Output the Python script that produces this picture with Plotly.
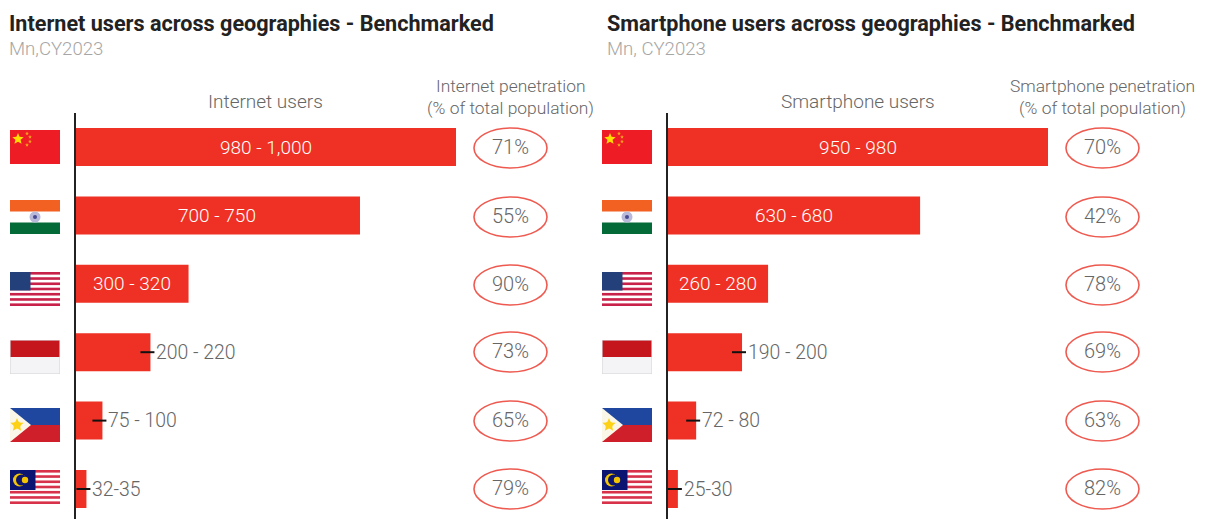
import base64
import math
import plotly.graph_objects as go

W, H = 1205, 519
countries = ["China", "India", "USA", "Indonesia", "Philippines", "Malaysia"]
internet_values = [1000, 748, 298, 198, 72, 30]
internet_labels = ["980 - 1,000", "700 - 750", "300 - 320", "200 - 220", "75 - 100", "32-35"]
internet_penetration = ["71%", "55%", "90%", "73%", "65%", "79%"]
smartphone_values = [980, 651, 260, 193, 75, 28]
smartphone_labels = ["950 - 980", "630 - 680", "260 - 280", "190 - 200", "72 - 80", "25-30"]
smartphone_penetration = ["70%", "42%", "78%", "69%", "63%", "82%"]
inside_count = 3

RED = "#EE3124"
GREY = "#666666"
FONT = "Roboto"


def stripes(n, c1, c2, w=50, h=34):
    s = f'<rect width="{w}" height="{h}" fill="{c2}"/>'
    for i in range(0, n, 2):
        s += f'<rect y="{i*h/n:.2f}" width="{w}" height="{h/n:.2f}" fill="{c1}"/>'
    return s


def star_pts(cx, cy, r):
    p = []
    for i in range(10):
        a = -math.pi / 2 + i * math.pi / 5
        q = r if i % 2 == 0 else r * 0.45
        p.append(f"{cx+q*math.cos(a):.2f},{cy+q*math.sin(a):.2f}")
    return " ".join(p)


FLAGS = {
    "China": '<rect width="50" height="34" fill="#EE1C25"/>'
             + f'<polygon points="{star_pts(8,9,6)}" fill="#FFDE00"/>'
             + "".join(f'<polygon points="{star_pts(x,y,2)}" fill="#F8A01C"/>'
                       for x, y in [(17, 3.5), (20, 7), (20, 11.5), (17, 15)]),
    "India": '<rect width="50" height="34" fill="#fff"/>'
             '<rect width="50" height="11.5" fill="#F26122"/>'
             '<rect y="22.5" width="50" height="11.5" fill="#046A38"/>'
             '<circle cx="25" cy="17" r="5.5" fill="#B9B9DA"/><circle cx="25" cy="17" r="2" fill="#4A4A90"/>',
    "USA": stripes(13, "#C8224A", "#FFFFFF") + '<rect width="20.5" height="18.5" fill="#24407A"/>',
    "Indonesia": '<rect width="50" height="34" fill="#F4F4F6"/><rect width="50" height="17" fill="#C4161C"/>'
                 '<rect x="0.3" y="0.3" width="49.4" height="33.4" fill="none" stroke="#D8D8DC" stroke-width="0.6"/>',
    "Philippines": '<rect width="50" height="17" fill="#1F479F"/><rect y="17" width="50" height="17" fill="#CE1F2B"/>'
                   '<polygon points="0,0 21,17 0,34" fill="#FBF7E8"/>'
                   f'<polygon points="{star_pts(7,17,7)}" fill="#FCD116"/>'
                   '<circle cx="7" cy="17" r="3.6" fill="#FCD116"/>',
    "Malaysia": stripes(13, "#D8324A", "#FFFFFF") + '<rect width="25.5" height="20" fill="#0B1470"/>'
                '<circle cx="9.5" cy="10" r="6.5" fill="#F4C400"/><circle cx="11.5" cy="10" r="5.5" fill="#0B1470"/>'
                '<circle cx="15" cy="10" r="3.2" fill="#F4C400"/>',
}


def uri(name):
    svg = f'<svg xmlns="http://www.w3.org/2000/svg" viewBox="0 0 50 34" preserveAspectRatio="none">{FLAGS[name]}</svg>'
    return "data:image/svg+xml;base64," + base64.b64encode(svg.encode()).decode()


px = lambda v: v / W
py = lambda v: 1 - v / H
ell_y = [148, 217, 285, 352, 421, 489]
flag_top = [130, 200, 272, 340, 408, 470]

fig = go.Figure()
fig.add_bar(x=internet_values, y=countries, orientation="h", marker=dict(color=RED, line_width=0),
            width=0.555, xaxis="x", yaxis="y", hoverinfo="skip", showlegend=False)
fig.add_bar(x=smartphone_values, y=countries, orientation="h", marker=dict(color=RED, line_width=0),
            width=0.555, xaxis="x2", yaxis="y2", hoverinfo="skip", showlegend=False)

shapes, anns, images = [], [], []


def text(x, y, t, size, color=GREY, weight=None, anchor="center", **kw):
    anns.append(dict(x=x, y=y, xref=kw.pop("xref", "paper"), yref=kw.pop("yref", "paper"), text=t, showarrow=False,
                     xanchor=anchor, yanchor="middle", font=dict(family=FONT, size=size, color=color,
                     weight=weight or 300), **kw))


def panel(xref, yref, values, labels, pens, axis_px, flag_px, ell_px, title, title_x, sub, head, head_x, pen1, pen2, pen_x):
    text(px(title_x), py(24), title, 21.6, "#222222", 700, "left")
    text(px(title_x), py(49), sub, 18.6, "#A6A6A6", 300, "left")
    text(px(head_x), py(101), head, 19, GREY)
    text(px(pen_x), py(86), pen1, 17.4, GREY)
    text(px(pen_x), py(108), pen2, 17.4, GREY)
    shapes.append(dict(type="line", xref="paper", yref="paper", x0=px(axis_px), x1=px(axis_px),
                       y0=py(113), y1=0, line=dict(color="#222222", width=2), layer="above"))
    for i, c in enumerate(countries):
        images.append(dict(source=uri(c), xref="paper", yref="paper", x=px(flag_px), y=py(flag_top[i]),
                           sizex=50 / W, sizey=34 / H, sizing="stretch", xanchor="left", yanchor="top", layer="above"))
        if i < inside_count:
            text(values[i] / 2, c, labels[i], 19, "#FFFFFF", xref=xref, yref=yref)
        else:
            text(values[i], c, labels[i], 19.4, GREY, anchor="left", xref=xref, yref=yref, xshift=4)
            shapes.append(dict(type="line", xref=xref, yref=yref, xsizemode="pixel", xanchor=values[i],
                               x0=-10, x1=4, y0=c, y1=c, line=dict(color="#111111", width=2), layer="above"))
        shapes.append(dict(type="circle", xref="paper", yref="paper", x0=px(ell_px - 36.5), x1=px(ell_px + 36.5),
                           y0=py(ell_y[i] + 20), y1=py(ell_y[i] - 20), line=dict(color="#EE5A50", width=1.6)))
        text(px(ell_px), py(ell_y[i] - 1), pens[i], 20, GREY)


panel("x", "y", internet_values, internet_labels, internet_penetration, 75, 10, 510.5,
      "Internet users across geographies - Benchmarked", 7, "Mn,CY2023", "Internet users", 265,
      "Internet penetration", "(% of total population)", 510)
panel("x2", "y2", smartphone_values, smartphone_labels, smartphone_penetration, 667, 602, 1102.5,
      "Smartphone users across geographies - Benchmarked", 605, "Mn, CY2023", "Smartphone users", 858,
      "Smartphone penetration", "(% of total population)", 1102)

yr = [(H - 147) / 68.4, -147 / 68.4]
ya = dict(type="category", categoryorder="array", categoryarray=countries, range=yr, domain=[0, 1], visible=False)
fig.update_layout(
    width=W, height=H, margin=dict(l=0, r=0, t=0, b=0), paper_bgcolor="white", plot_bgcolor="white",
    bargap=0.44, showlegend=False, font=dict(family=FONT),
    xaxis=dict(domain=[px(75), px(456)], range=[0, 1000], visible=False, anchor="y"),
    yaxis=dict(ya, anchor="x"),
    xaxis2=dict(domain=[px(667), px(1048)], range=[0, 980], visible=False, anchor="y2"),
    yaxis2=dict(ya, anchor="x2"),
    shapes=shapes, annotations=anns, images=images,
)
fig.write_html("out.html", post_script="document.body.style.margin='0';document.body.style.overflow='hidden';",
               config=dict(displayModeBar=False))
